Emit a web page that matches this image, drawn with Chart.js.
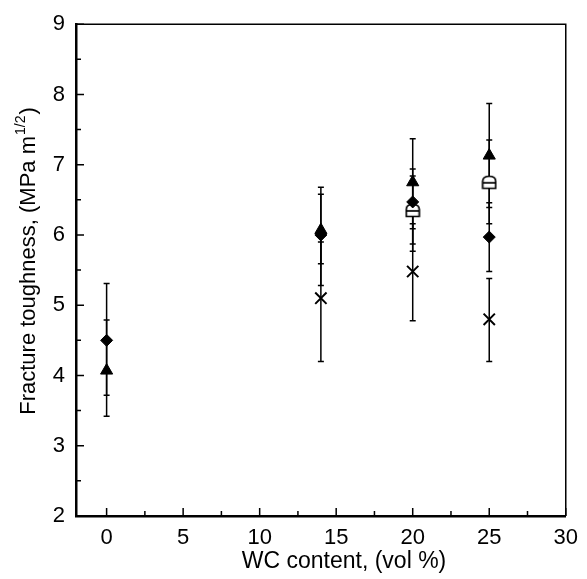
<!DOCTYPE html>
<html>
<head>
<meta charset="utf-8">
<script src="https://cdn.jsdelivr.net/npm/chart.js@4.4.0/dist/chart.umd.min.js"></script>
<style>
    html, body { margin: 0; padding: 0; background: #fff; }
    canvas { display: block; }
</style>
</head>
<body>
<canvas id="toughnessChart" width="587" height="579"></canvas>
<script>
// tick values
const xTickValues = [0, 5, 10, 15, 20, 25, 30];
const xMinorTicks = [2.5, 7.5, 12.5, 17.5, 22.5, 27.5];
const yTickValues = [2, 3, 4, 5, 6, 7, 8, 9];
const yMinorTicks = [2.5, 3.5, 4.5, 5.5, 6.5, 7.5, 8.5];

// filled triangles
const triX = [0, 14, 20, 25];
const triY = [4.07, 6.07, 6.75, 7.13];
const triLow = [3.42, 5.59, 6.09, 6.39];
const triHigh = [4.79, 6.68, 7.37, 7.87];

// filled diamonds
const diaX = [0, 14, 20, 25];
const diaY = [4.5, 6.0, 6.47, 5.97];
const diaLow = [3.72, 5.28, 5.77, 5.48];
const diaHigh = [5.31, 6.58, 6.94, 6.46];

// open symbols
const openX = [20, 25];
const openY = [6.35, 6.75];
const openLow = [5.87, 6.16];
const openHigh = [6.84, 7.35];

// asterisks
const starX = [14, 20, 25];
const starY = [5.1, 5.48, 4.8];
const starLow = [4.2, 4.78, 4.2];
const starHigh = [5.9, 6.16, 5.38];

const toPoints = (xs, ys) => xs.map((x, i) => ({ x: x, y: ys[i] }));

const errorBars = [
    { low: triLow, high: triHigh },
    { low: diaLow, high: diaHigh },
    { low: openLow, high: openHigh },
    { low: starLow, high: starHigh }
];

// open marker, rounded top with a line across
const openMarker = document.createElement('canvas');
openMarker.width = 16;
openMarker.height = 15;
(function () {
    const c = openMarker.getContext('2d');
    c.fillStyle = '#fff';
    c.strokeStyle = '#000';
    c.lineWidth = 1.7;
    c.beginPath();
    c.moveTo(1.5, 13.5);
    c.lineTo(1.5, 6.5);
    c.quadraticCurveTo(1.5, 1.5, 8, 1.5);
    c.quadraticCurveTo(14.5, 1.5, 14.5, 6.5);
    c.lineTo(14.5, 13.5);
    c.closePath();
    c.fill();
    c.stroke();
    c.beginPath();
    c.moveTo(1.5, 8);
    c.lineTo(14.5, 8);
    c.stroke();
})();

const FONT = '"Liberation Sans", Arial, sans-serif';

const errorBarPlugin = {
    id: 'errorBars',
    beforeDatasetsDraw(chart) {
        const ctx = chart.ctx;
        const xs = chart.scales.x;
        const ys = chart.scales.y;
        ctx.save();
        ctx.strokeStyle = '#000';
        ctx.lineWidth = 1.5;
        chart.data.datasets.forEach((ds, di) => {
            const eb = errorBars[di];
            ds.data.forEach((p, i) => {
                const px = xs.getPixelForValue(p.x);
                const top = ys.getPixelForValue(eb.high[i]);
                const bot = ys.getPixelForValue(eb.low[i]);
                ctx.beginPath();
                ctx.moveTo(px, top);
                ctx.lineTo(px, bot);
                ctx.moveTo(px - 3, top);
                ctx.lineTo(px + 3, top);
                ctx.moveTo(px - 3, bot);
                ctx.lineTo(px + 3, bot);
                ctx.stroke();
            });
        });
        ctx.restore();
    }
};

const framePlugin = {
    id: 'frame',
    afterDraw(chart) {
        const ctx = chart.ctx;
        const a = chart.chartArea;
        const xs = chart.scales.x;
        const ys = chart.scales.y;
        ctx.save();
        ctx.strokeStyle = '#000';

        // top and right edges
        ctx.lineWidth = 1.5;
        ctx.beginPath();
        ctx.moveTo(a.left, a.top);
        ctx.lineTo(a.right, a.top);
        ctx.lineTo(a.right, a.bottom);
        ctx.stroke();

        // inward ticks
        ctx.lineWidth = 1.5;
        ctx.beginPath();
        xTickValues.forEach(v => {
            const px = xs.getPixelForValue(v);
            ctx.moveTo(px, a.bottom);
            ctx.lineTo(px, a.bottom - 8);
        });
        xMinorTicks.forEach(v => {
            const px = xs.getPixelForValue(v);
            ctx.moveTo(px, a.bottom);
            ctx.lineTo(px, a.bottom - 5);
        });
        yTickValues.forEach(v => {
            const py = ys.getPixelForValue(v);
            ctx.moveTo(a.left, py);
            ctx.lineTo(a.left + 8, py);
        });
        yMinorTicks.forEach(v => {
            const py = ys.getPixelForValue(v);
            ctx.moveTo(a.left, py);
            ctx.lineTo(a.left + 5, py);
        });
        ctx.stroke();

        // axis titles
        ctx.fillStyle = '#000';
        ctx.font = '23px ' + FONT;
        ctx.textAlign = 'center';
        ctx.textBaseline = 'middle';
        ctx.fillText('WC content, (vol %)', 344, 562);

        ctx.translate(29, 262);
        ctx.rotate(-Math.PI / 2);
        const main = 'Fracture toughness, (MPa m';
        const sup = '1/2';
        const end = ')';
        ctx.font = '22px ' + FONT;
        const wMain = ctx.measureText(main).width;
        const wEnd = ctx.measureText(end).width;
        ctx.font = '14px ' + FONT;
        const wSup = ctx.measureText(sup).width;
        let x0 = -(wMain + wSup + wEnd) / 2;
        ctx.textAlign = 'left';
        ctx.font = '22px ' + FONT;
        ctx.fillText(main, x0, 0);
        ctx.font = '14px ' + FONT;
        ctx.fillText(sup, x0 + wMain + 1, -8);
        ctx.font = '22px ' + FONT;
        ctx.fillText(end, x0 + wMain + wSup + 2, 0);
        ctx.restore();
    }
};

const ctxChart = document.getElementById('toughnessChart').getContext('2d');
new Chart(ctxChart, {
    type: 'scatter',
    data: {
        datasets: [
            {
                label: 'triangle',
                data: toPoints(triX, triY),
                pointStyle: 'triangle',
                pointRadius: 7,
                backgroundColor: '#000',
                borderColor: '#000',
                borderWidth: 1
            },
            {
                label: 'diamond',
                data: toPoints(diaX, diaY),
                pointStyle: 'rectRot',
                pointRadius: 6,
                backgroundColor: '#000',
                borderColor: '#000',
                borderWidth: 1
            },
            {
                label: 'open',
                data: toPoints(openX, openY),
                pointStyle: openMarker,
                pointRadius: 8,
                backgroundColor: '#fff',
                borderColor: '#000'
            },
            {
                label: 'asterisk',
                data: toPoints(starX, starY),
                pointStyle: 'crossRot',
                pointRadius: 8,
                backgroundColor: '#000',
                borderColor: '#000',
                borderWidth: 2
            }
        ]
    },
    options: {
        responsive: false,
        animation: false,
        layout: {
            padding: { top: 15, right: 15, left: 0, bottom: 0 }
        },
        plugins: {
            legend: { display: false },
            tooltip: { enabled: false }
        },
        scales: {
            x: {
                type: 'linear',
                min: -2,
                max: 30,
                afterBuildTicks: scale => {
                    scale.ticks = xTickValues.map(v => ({ value: v }));
                },
                afterFit: scale => { scale.height = 63; },
                grid: { display: false, drawTicks: false },
                border: { display: true, color: '#000', width: 2.5 },
                ticks: {
                    color: '#000',
                    padding: 9,
                    maxRotation: 0,
                    font: { family: FONT, size: 22 }
                }
            },
            y: {
                type: 'linear',
                min: 2,
                max: 9,
                afterBuildTicks: scale => {
                    scale.ticks = yTickValues.map(v => ({ value: v }));
                },
                afterFit: scale => { scale.width = 76; },
                grid: { display: false, drawTicks: false },
                border: { display: true, color: '#000', width: 2.5 },
                ticks: {
                    color: '#000',
                    padding: 11,
                    font: { family: FONT, size: 22 }
                }
            }
        }
    },
    plugins: [errorBarPlugin, framePlugin]
});
</script>
</body>
</html>
